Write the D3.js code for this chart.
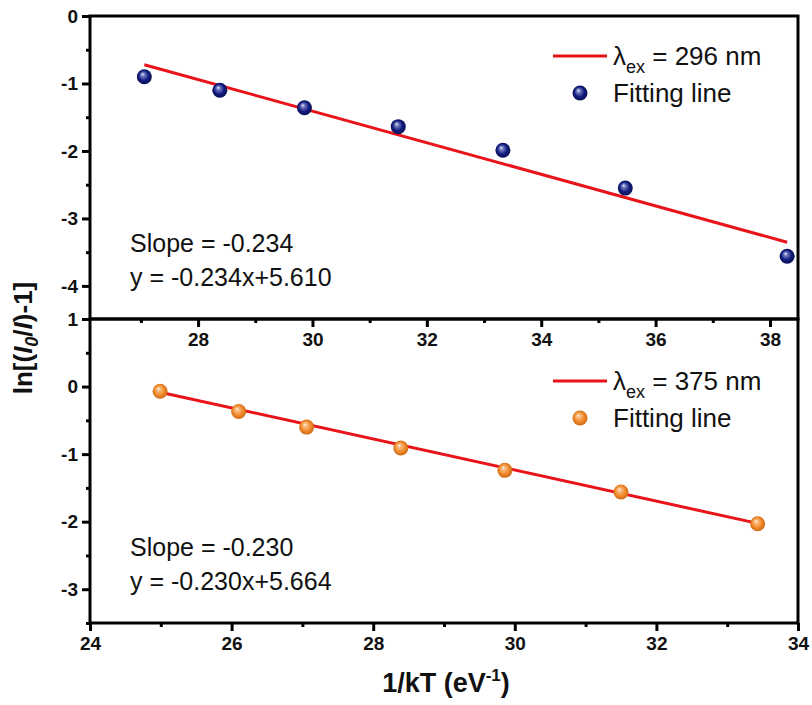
<!DOCTYPE html>
<html>
<head>
<meta charset="utf-8">
<script src="https://cdn.jsdelivr.net/npm/d3@7"></script>
<style>
  body { margin: 0; background: #fff; }
  svg text { font-family: "Liberation Sans", Arial, sans-serif; }
  .tick text { font-family: "Liberation Sans", Arial, sans-serif; font-weight: bold; font-size: 19px; }
</style>
</head>
<body>
<div id="view"></div>
<script>
// top panel (296 nm)
var topX = [27.06, 28.38, 29.86, 31.50, 33.33, 35.47, 38.30];
var topY = [-0.90, -1.10, -1.36, -1.64, -1.99, -2.55, -3.56];
var topFit = {slope: -0.234, intercept: 5.610};

// bottom panel (375 nm)
var botX = [24.99, 26.10, 27.06, 28.39, 29.86, 31.50, 33.43];
var botY = [-0.07, -0.37, -0.60, -0.91, -1.24, -1.56, -2.03];
var botFit = {slope: -0.230, intercept: 5.664};

var topXTicks = [28, 30, 32, 34, 36, 38];
var topYTicks = [0, -1, -2, -3, -4];
var botXTicks = [24, 26, 28, 30, 32, 34];
var botYTicks = [1, 0, -1, -2, -3];

var width = 812, height = 705;
var left = 90, right = 798;
var topTop = 16, mid = 319, botBottom = 623;

var svg = d3.select("#view")
    .append("svg")
    .attr("width", width)
    .attr("height", height);

var defs = svg.append("defs");
function ballGrad(id, light, base, dark) {
    var g = defs.append("radialGradient")
        .attr("id", id)
        .attr("cx", "50%").attr("cy", "50%").attr("r", "55%")
        .attr("fx", "38%").attr("fy", "32%");
    g.append("stop").attr("offset", "0%").attr("stop-color", "#fff");
    g.append("stop").attr("offset", "18%").attr("stop-color", light);
    g.append("stop").attr("offset", "60%").attr("stop-color", base);
    g.append("stop").attr("offset", "100%").attr("stop-color", dark);
}
ballGrad("blueBall", "#7f86c8", "#121c80", "#080e48");
ballGrad("orangeBall", "#f9c08a", "#f08a2c", "#c8620e");

var xTop = d3.scaleLinear().domain([26.11, 38.49]).range([left, right]);
var yTop = d3.scaleLinear().domain([-4.49, 0]).range([mid, topTop]);
var xBot = d3.scaleLinear().domain([24, 34]).range([left, right]);
var yBot = d3.scaleLinear().domain([-3.5, 1]).range([botBottom, mid]);

var fmt = function(d) { return String(d); };

function drawPanel(opt) {
    var g = svg.append("g");

    // fit line
    var x0 = opt.xs[0], x1 = opt.xs[opt.xs.length - 1];
    g.append("line")
        .attr("x1", opt.x(x0)).attr("y1", opt.y(opt.fit.slope * x0 + opt.fit.intercept))
        .attr("x2", opt.x(x1)).attr("y2", opt.y(opt.fit.slope * x1 + opt.fit.intercept))
        .attr("stroke", "#e8141a")
        .attr("stroke-width", 3);

    g.selectAll("circle.pt")
        .data(opt.xs.map(function(d, i) { return [d, opt.ys[i]]; }))
        .enter().append("circle")
        .attr("class", "pt")
        .attr("cx", function(d) { return opt.x(d[0]); })
        .attr("cy", function(d) { return opt.y(d[1]); })
        .attr("r", 7.5)
        .attr("fill", "url(#" + opt.grad + ")");

    // minor ticks
    var xr = opt.x.domain(), yr = opt.y.domain();
    var xMin = d3.range(Math.ceil(xr[0]), xr[1], 1).filter(function(v) { return opt.xTicks.indexOf(v) < 0; });
    var yMin = d3.range(Math.ceil(yr[0] * 2) / 2, yr[1] + 0.01, 0.5).filter(function(v) { return opt.yTicks.indexOf(v) < 0; });

    g.append("g")
        .attr("transform", "translate(0," + opt.y.range()[0] + ")")
        .call(d3.axisBottom(opt.x).tickValues(xMin).tickSize(4).tickFormat(""))
        .call(function(a) { a.select(".domain").remove(); a.selectAll("line").attr("stroke-width", 3); });
    g.append("g")
        .attr("transform", "translate(" + left + ",0)")
        .call(d3.axisLeft(opt.y).tickValues(yMin).tickSize(4).tickFormat(""))
        .call(function(a) { a.select(".domain").remove(); a.selectAll("line").attr("stroke-width", 3); });

    // major ticks
    g.append("g")
        .attr("transform", "translate(0," + opt.y.range()[0] + ")")
        .call(d3.axisBottom(opt.x).tickValues(opt.xTicks).tickSize(8).tickPadding(6).tickFormat(fmt))
        .call(function(a) { a.select(".domain").remove(); a.selectAll("line").attr("stroke-width", 3); a.selectAll("text").attr("fill", "#111"); });
    g.append("g")
        .attr("transform", "translate(" + left + ",0)")
        .call(d3.axisLeft(opt.y).tickValues(opt.yTicks).tickSize(8).tickPadding(4).tickFormat(fmt))
        .call(function(a) { a.select(".domain").remove(); a.selectAll("line").attr("stroke-width", 3); a.selectAll("text").attr("fill", "#111"); });

    // legend
    var lx = 553, ly = opt.legendY;
    g.append("line")
        .attr("x1", lx).attr("x2", lx + 54)
        .attr("y1", ly).attr("y2", ly)
        .attr("stroke", "#e8141a").attr("stroke-width", 3);
    var t = g.append("text")
        .attr("x", lx + 60).attr("y", ly + 9)
        .attr("font-size", 26)
        .attr("fill", "#111");
    t.append("tspan").text("λ");
    t.append("tspan").attr("font-size", 18).attr("dy", 8).text("ex");
    t.append("tspan").attr("dy", -8).text(" = " + opt.label);
    g.append("circle")
        .attr("cx", lx + 27).attr("cy", ly + 37)
        .attr("r", 7.5)
        .attr("fill", "url(#" + opt.grad + ")");
    g.append("text")
        .attr("x", lx + 60).attr("y", ly + 46)
        .attr("font-size", 26)
        .attr("fill", "#111")
        .text("Fitting line");

    // annotation
    g.append("text")
        .attr("x", 130).attr("y", opt.noteY)
        .attr("font-size", 25)
        .attr("fill", "#111")
        .text("Slope = " + opt.fit.slope.toFixed(3));
    g.append("text")
        .attr("x", 130).attr("y", opt.noteY + 34)
        .attr("font-size", 25)
        .attr("fill", "#111")
        .text("y = " + opt.fit.slope.toFixed(3) + "x+" + opt.fit.intercept.toFixed(3));
}

drawPanel({x: xTop, y: yTop, xs: topX, ys: topY, fit: topFit, grad: "blueBall",
    xTicks: topXTicks, yTicks: topYTicks, legendY: 56, label: "296 nm", noteY: 252});
drawPanel({x: xBot, y: yBot, xs: botX, ys: botY, fit: botFit, grad: "orangeBall",
    xTicks: botXTicks, yTicks: botYTicks, legendY: 381, label: "375 nm", noteY: 556});

// frames
svg.append("rect")
    .attr("x", left).attr("y", topTop)
    .attr("width", right - left).attr("height", mid - topTop)
    .attr("fill", "none").attr("stroke", "#000").attr("stroke-width", 3);
svg.append("rect")
    .attr("x", left).attr("y", mid)
    .attr("width", right - left).attr("height", botBottom - mid)
    .attr("fill", "none").attr("stroke", "#000").attr("stroke-width", 3);

// axis titles
var yt = svg.append("text")
    .attr("transform", "translate(32,338) rotate(-90)")
    .attr("text-anchor", "middle")
    .attr("font-size", 26)
    .attr("font-weight", "bold")
    .attr("fill", "#111");
yt.append("tspan").text("ln[(");
yt.append("tspan").attr("font-style", "italic").text("I");
yt.append("tspan").attr("font-style", "italic").attr("font-size", 18).attr("dy", 6).text("0");
yt.append("tspan").attr("dy", -6).text("/");
yt.append("tspan").attr("font-style", "italic").text("I");
yt.append("tspan").text(")-1]");

var xt = svg.append("text")
    .attr("x", 446).attr("y", 692)
    .attr("text-anchor", "middle")
    .attr("font-size", 27)
    .attr("font-weight", "bold")
    .attr("fill", "#111");
xt.append("tspan").text("1/kT (eV");
xt.append("tspan").attr("font-size", 17).attr("dy", -11).text("-1");
xt.append("tspan").attr("dy", 11).text(")");
</script>
</body>
</html>
